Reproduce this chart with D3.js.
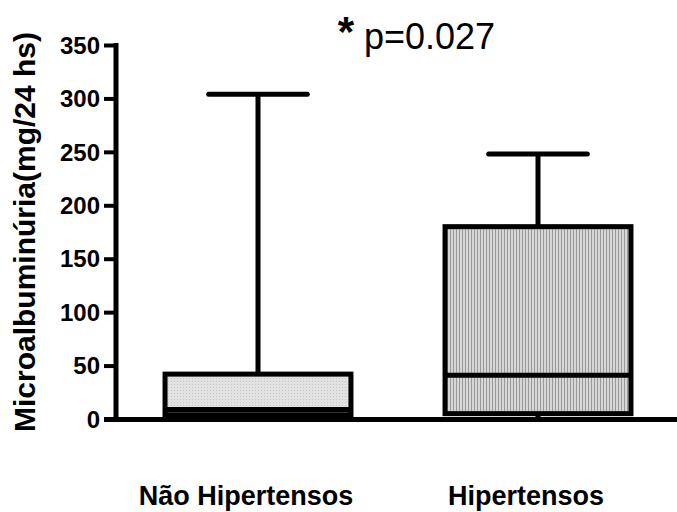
<!DOCTYPE html>
<html>
<head>
<meta charset="utf-8">
<script src="https://cdn.jsdelivr.net/npm/d3@7"></script>
<style>
  html, body { margin: 0; padding: 0; background: #fff; }
  svg { display: block; }
  text { font-family: "Liberation Sans", Arial, Helvetica, sans-serif; fill: #000; }
</style>
</head>
<body>
<svg id="chart" width="677" height="512"></svg>
<script>
// ---- data ----
const categories = ["Não Hipertensos", "Hipertensos"];
const minValues    = [0, 0];
const q1Values     = [4, 5];
const medianValues = [9, 41];
const q3Values     = [42, 180];
const maxValues    = [304, 248];
const yTicks = [0, 50, 100, 150, 200, 250, 300, 350];
const yLabel = "Microalbuminúria(mg/24 hs)";
const annotation = "p=0.027";
const fills = ["url(#stipple)", "url(#stripes)"];

const svg = d3.select("#chart");
const W = 677, H = 512;

// patterns
const defs = svg.append("defs");
const p1 = defs.append("pattern").attr("id", "stipple").attr("patternUnits", "userSpaceOnUse")
  .attr("width", 3).attr("height", 3);
p1.append("rect").attr("width", 3).attr("height", 3).attr("fill", "#e2e2e2");
p1.append("rect").attr("width", 1).attr("height", 1).attr("fill", "#c4c4c4");
const p2 = defs.append("pattern").attr("id", "stripes").attr("patternUnits", "userSpaceOnUse")
  .attr("width", 3).attr("height", 3);
p2.append("rect").attr("width", 3).attr("height", 3).attr("fill", "#d6d6d6");
p2.append("rect").attr("width", 1).attr("height", 3).attr("fill", "#9a9a9a");

const y = d3.scaleLinear().domain([0, 350]).range([419, 45]);
const x = d3.scaleBand().domain(categories).range([118, 678]).paddingInner(0.336).paddingOuter(0.168);

const data = categories.map((c, i) => ({
  cat: c, min: minValues[i], q1: q1Values[i], med: medianValues[i], q3: q3Values[i], max: maxValues[i], fill: fills[i]
}));

const SW = 5;
const g = svg.append("g");
data.forEach(d => {
  const cx = x(d.cat) + x.bandwidth() / 2;
  const bw = x.bandwidth();
  const capW = bw * 0.53;
  // whiskers
  g.append("line").attr("x1", cx).attr("x2", cx).attr("y1", y(d.q3)).attr("y2", y(d.max))
    .attr("stroke", "#000").attr("stroke-width", SW);
  g.append("line").attr("x1", cx - capW / 2).attr("x2", cx + capW / 2).attr("y1", y(d.max)).attr("y2", y(d.max))
    .attr("stroke", "#000").attr("stroke-width", SW).attr("stroke-linecap", "round");
  g.append("line").attr("x1", cx).attr("x2", cx).attr("y1", y(d.q1)).attr("y2", y(d.min))
    .attr("stroke", "#000").attr("stroke-width", SW);
  // box
  g.append("rect").attr("x", x(d.cat)).attr("width", bw)
    .attr("y", y(d.q3)).attr("height", y(d.q1) - y(d.q3))
    .attr("fill", d.fill).attr("stroke", "#000").attr("stroke-width", SW);
  // median
  g.append("line").attr("x1", x(d.cat)).attr("x2", x(d.cat) + bw).attr("y1", y(d.med)).attr("y2", y(d.med))
    .attr("stroke", "#000").attr("stroke-width", SW);
});

// y axis
const yAxis = d3.axisLeft(y).tickValues(yTicks).tickSize(12).tickPadding(4).tickFormat(d3.format("d"));
const ya = svg.append("g").attr("transform", "translate(116,0)").call(yAxis);
ya.select(".domain").remove();
ya.append("line").attr("x1", 0).attr("x2", 0).attr("y1", y(350) - 2).attr("y2", y(0) + 2.5)
  .attr("stroke", "#000").attr("stroke-width", 5);
ya.selectAll(".tick line").attr("stroke", "#000").attr("stroke-width", 4);
ya.selectAll(".tick text").attr("font-size", 24).attr("font-weight", "bold")
  .attr("font-family", "Liberation Sans, Arial, sans-serif").attr("fill", "#000").attr("dy", "0.34em");

// x axis line
svg.append("line").attr("x1", 104).attr("x2", W).attr("y1", y(0) + 0.5).attr("y2", y(0) + 0.5)
  .attr("stroke", "#000").attr("stroke-width", 5);

// category labels
svg.selectAll(".cat").data(categories).join("text")
  .attr("x", d => x(d) + x.bandwidth() / 2 - 12)
  .attr("y", 505)
  .attr("text-anchor", "middle")
  .attr("font-size", 27).attr("font-weight", "bold")
  .text(d => d);

// y label
svg.append("text")
  .attr("transform", `translate(35,${(y(0) + y(350)) / 2}) rotate(-90)`)
  .attr("text-anchor", "middle")
  .attr("font-size", 30).attr("font-weight", "bold")
  .text(yLabel);

// annotation
svg.append("text").attr("x", 346).attr("y", 46).attr("text-anchor", "middle")
  .attr("font-size", 42).attr("font-weight", "bold").text("*");
svg.append("text").attr("x", 364).attr("y", 49).attr("font-size", 36).text(annotation);
</script>
</body>
</html>
